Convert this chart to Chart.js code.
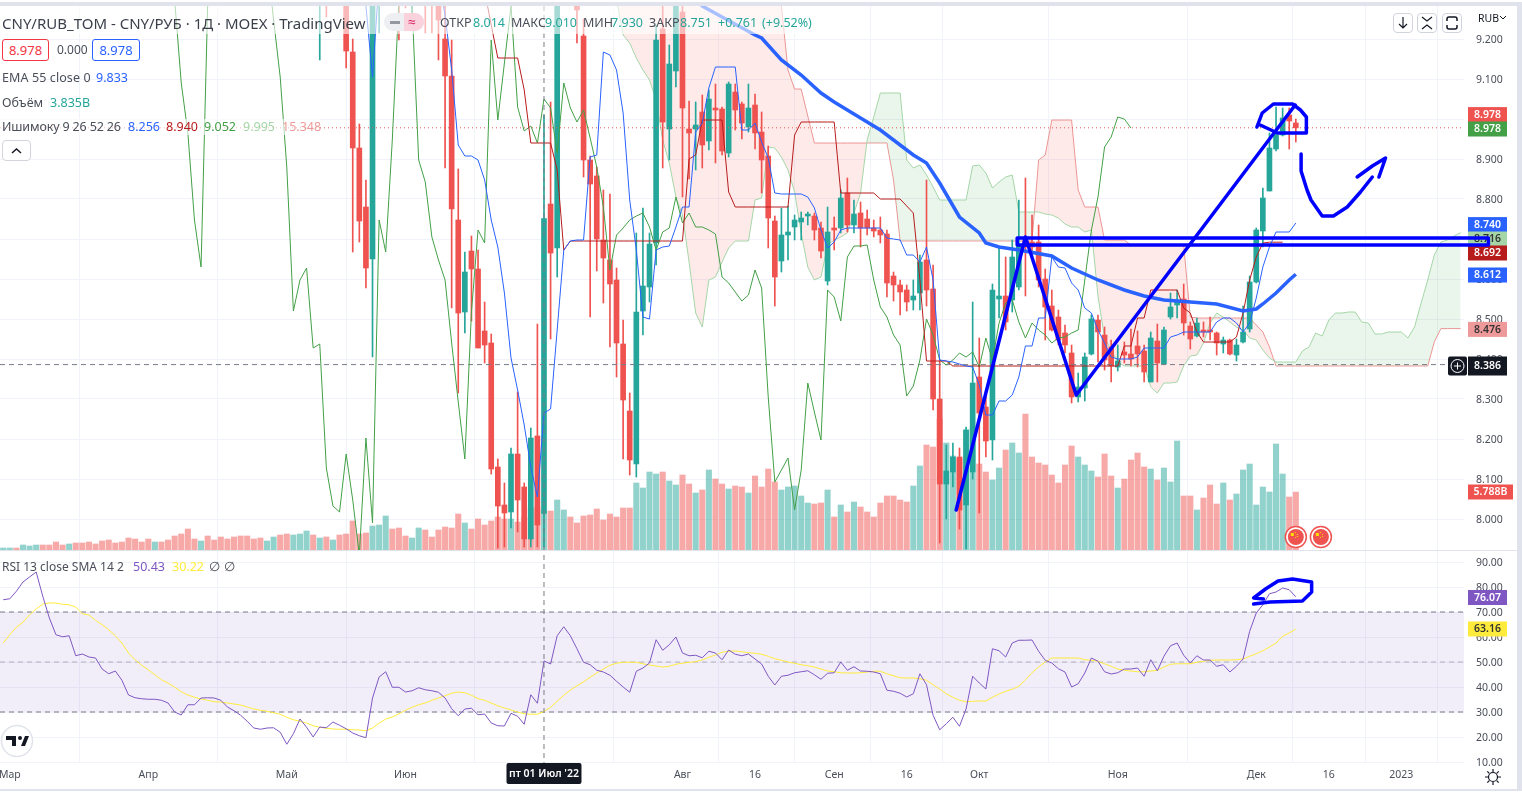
<!DOCTYPE html>
<html lang="ru">
<head>
<meta charset="utf-8">
<title>CNY/RUB_TOM</title>
<script src="https://cdn.jsdelivr.net/npm/chart.js"></script>
<style>
html, body { margin: 0; padding: 0; background: #fff; overflow: hidden; }
body { width: 1522px; height: 797px; position: relative; font-family: "Noto Sans", "Open Sans", sans-serif; color: #4a4e59; }
#topline { position: absolute; left: 0; top: 2px; width: 1522px; height: 4px; background: #e0e3eb; }
#rightline { position: absolute; left: 1517px; top: 2px; width: 5px; height: 789px; background: #e0e3eb; }
#botline { position: absolute; left: 0; top: 789px; width: 1522px; height: 2px; background: #e0e3eb; }
#sepline { position: absolute; left: 0; top: 550px; width: 1517px; height: 1px; background: #e0e3eb; }
#chart { position: absolute; left: 0; top: 6px; }
.t { position: absolute; white-space: nowrap; font-size: 12.5px; line-height: 16px; }
.band { position: absolute; background: rgba(255,255,255,.6); }
.box { position: absolute; border-radius: 3px; text-align: center; background: #fff; font-size: 13px; line-height: 20px; box-sizing: border-box; height: 22px; }
.btn { position: absolute; width: 20px; height: 20px; border: 1px solid #d1d4dc; border-radius: 4px; background: #fff; box-sizing: border-box; }
.teal { color: #26a69a; }
</style>
</head>
<body>
<div id="topline"></div>
<div id="rightline"></div>
<div id="botline"></div>
<canvas id="chart" width="1517" height="783"></canvas>
<div id="sepline"></div>

<div class="band" style="left:0;top:6px;width:812px;height:28px"></div>
<div class="t" style="left:2px;top:14px;font-size:15px;line-height:18px;color:#3b3f4a">CNY/RUB_TOM - CNY/РУБ · 1Д · MOEX · TradingView</div>
<div style="position:absolute;left:384px;top:13px;width:40px;height:18px;border-radius:9px;background:#eeeff2"></div>
<div style="position:absolute;left:404px;top:13px;width:20px;height:18px;border-radius:0 9px 9px 0;background:#f9d2dc"></div>
<div style="position:absolute;left:390px;top:21px;width:10px;height:3px;background:#9598a1"></div>
<div class="t" style="left:408px;top:14px;color:#d81b60;font-size:14px">≈</div>
<div class="t" style="left:440px;top:15px">ОТКР</div><div class="t teal" style="left:473px;top:15px">8.014</div>
<div class="t" style="left:511px;top:15px">МАКС</div><div class="t teal" style="left:545px;top:15px">9.010</div>
<div class="t" style="left:583px;top:15px">МИН</div><div class="t teal" style="left:611px;top:15px">7.930</div>
<div class="t" style="left:649px;top:15px">ЗАКР</div><div class="t teal" style="left:680px;top:15px">8.751</div>
<div class="t teal" style="left:718px;top:15px">+0.761</div><div class="t teal" style="left:762px;top:15px">(+9.52%)</div>

<div class="box" style="left:2px;top:39px;width:47px;border:1px solid #f23645;color:#f23645">8.978</div>
<div class="t" style="left:57px;top:42px;font-size:12px">0.000</div>
<div class="box" style="left:92px;top:39px;width:48px;border:1px solid #2962ff;color:#2962ff">8.978</div>

<div class="t" style="left:2px;top:70px;letter-spacing:.1px">EMA 55 close 0</div><div class="t" style="left:96px;top:70px;color:#2962ff">9.833</div>
<div class="t" style="left:2px;top:95px">Объём</div><div class="t teal" style="left:50px;top:95px">3.835B</div>
<div class="band" style="left:0;top:119px;width:320px;height:16px"></div>
<div class="t" style="left:2px;top:119px;letter-spacing:-.15px">Ишимоку 9 26 52 26</div>
<div class="t" style="left:128px;top:119px;color:#2962ff">8.256</div>
<div class="t" style="left:166px;top:119px;color:#b71c1c">8.940</div>
<div class="t" style="left:204px;top:119px;color:#43a047">9.052</div>
<div class="t" style="left:243px;top:119px;color:#a5d6a7">9.995</div>
<div class="t" style="left:282px;top:119px;color:#ef9a9a">15.348</div>
<div class="btn" style="left:2px;top:140px;width:29px;height:21px">
  <svg width="27" height="19"><path d="M9 12l4.500-4 4.500 4" fill="none" stroke="#131722" stroke-width="1.500"/></svg>
</div>

<div class="t" style="left:2px;top:559px;font-size:12px">RSI 13 close SMA 14 2</div>
<div class="t" style="left:133px;top:559px;color:#7e57c2">50.43</div>
<div class="t" style="left:172px;top:559px;color:#ffeb3b">30.22</div>
<div class="t" style="left:209px;top:559px">∅</div>
<div class="t" style="left:224px;top:559px">∅</div>

<div class="btn" style="left:1393px;top:13px"><svg width="18" height="18"><path d="M9 3v11M5 10l4 4 4-4" fill="none" stroke="#131722" stroke-width="1.200"/></svg></div>
<div class="btn" style="left:1417px;top:13px"><svg width="18" height="18"><path d="M4 3l5 4 5-4M4 15l5-4 5 4" fill="none" stroke="#131722" stroke-width="1.200"/></svg></div>
<div class="btn" style="left:1442px;top:13px"><svg width="18" height="18"><path d="M4 7V5q0-2 2-2h6q2 0 2 2v2M4 11v2q0 2 2 2h6q2 0 2-2v-2" fill="none" stroke="#131722" stroke-width="1.500"/></svg></div>
<div class="t" style="left:1478px;top:10px;font-size:10.5px;color:#131722">RUB</div>
<svg style="position:absolute;left:1499px;top:15px" width="8" height="6"><path d="M1 1l3 3 3-3" fill="none" stroke="#131722"/></svg>

<svg style="position:absolute;left:0;top:724px" width="34" height="34">
  <circle cx="17" cy="17" r="15.500" fill="#fff" stroke="#e0e3eb" stroke-width="1.500"/>
  <path d="M6 12h10v10h-4v-6H6zM21 22l4-10h4l-4 10z" fill="#131722"/><circle cx="20" cy="14" r="2" fill="#131722"/>
</svg>
<svg style="position:absolute;left:1484px;top:768px" width="18" height="18">
  <circle cx="9" cy="9" r="4.500" fill="none" stroke="#131722" stroke-width="1.200"/>
  <path d="M9 1v3M9 14v3M1 9h3M14 9h3M3.300 3.300l2 2M12.700 12.700l2 2M3.300 14.700l2-2M12.700 5.300l2-2" stroke="#131722" stroke-width="1.200"/>
</svg>

<script>
// bars: index 0 is 28 Feb 2022, last bar (196) is 9 Dec 2022
const timeTickBars = [1, 22, 43, 61, 82, 103, 114, 126, 137, 148, 169, 190, 201, 212];
const timeTickLabels = ['Мар', 'Апр', 'Май', 'Июн', 'Июл', 'Авг', '16', 'Сен', '16', 'Окт', 'Ноя', 'Дек', '16', '2023'];
const priceTicks = [8.0, 8.1, 8.2, 8.3, 8.4, 8.5, 8.6, 8.7, 8.8, 8.9, 9.0, 9.1, 9.2];
const rsiTicks = [10, 20, 30, 40, 50, 60, 70, 80, 90];

// candles, first one is bar 48; earlier bars are above the visible range
const candleStart = 48;
const opens = [
  9.4, 9.6, null, null, 9.35, 9.1675, 8.9275, 8.78, 8.65, 9.35,
  null, null, 9.6, 9.6, 9.35, null, 9.6, 9.6, 9.4, 9.2,
  9.1075, 8.7475, 8.5175, 8.67, 8.625, 8.47, 8.44, 8.13, 8.035, 8.0175,
  8.1625, 8.08, 7.95, 8.2075, 8.014, 8.7875, 8.6775, null, null, 9.5,
  9.2075, 8.8975, 8.8575, 8.6975, 8.6475, 8.5975, 8.4375, 8.27, 8.1375, 8.52,
  8.58, 8.69, 9.225, 8.975, 9.12, 9.2675, 8.975, 8.975, 9.0175, 8.945,
  9.0275, 9.025, 8.915, 9.0675, 9.0375, 8.98, 9.035, 8.9675, 8.9075, 8.745,
  8.645, 8.71, 8.73, 8.7425, 8.7575, 8.7575, 8.7275, 8.595, 8.7275, 8.7275,
  8.815, 8.735, 8.765, 8.75, 8.7275, 8.7225, 8.7125, 8.6075, 8.585, 8.5725,
  8.5475, 8.565, 8.6475, 8.575, 8.3, 8.0875, 8.1175, 8.155, 8.035, 8.1175,
  8.355, 8.28, 8.1975, 8.55, 8.5575, 8.5475, 8.58, 8.7025, 8.6925, 8.6925,
  8.6, 8.5325, 8.505, 8.465, 8.415, 8.305, 8.3275, 8.4125, 8.4975, 8.46,
  8.43, 8.38, 8.4175, 8.4125, 8.4325, 8.42, 8.3425, 8.445, 8.3875, 8.505,
  8.535, 8.55, 8.4825, 8.4575, 8.4725, 8.4725, 8.465, 8.4375, 8.4475, 8.41,
  8.4425, 8.475, 8.5925, 8.72, 8.82, 8.925, 8.96, 9.01, 8.99
];
const highs = [
  9.6, 9.6, null, null, 9.4, 9.2, 8.9875, 8.8475, 9.45, 9.55,
  null, null, 9.65, 9.65, 9.55, null, 9.65, 9.65, 9.45, 9.3,
  9.1975, 8.875, 8.6675, 8.7075, 8.6725, 8.5425, 8.4625, 8.15, 8.09, 8.1775,
  8.3175, 8.09, 8.2275, 8.4875, 9.01, 9.0425, 9.4, null, null, 9.55,
  9.25, 8.9075, 8.88, 8.8225, 8.8125, 8.6275, 8.4975, 8.315, 8.715, 8.7775,
  8.715, 9.235, 9.3, 9.185, 9.4, 9.3, 9.045, 9.0425, 9.06, 9.0725,
  9.0875, 9.03, 9.0925, 9.0875, 9.0425, 9.0875, 9.0625, 9.0175, 8.9325, 8.7575,
  8.7775, 8.7825, 8.76, 8.7675, 8.7675, 8.765, 8.7425, 8.78, 8.755, 8.8225,
  8.8525, 8.7975, 8.7925, 8.7725, 8.7475, 8.755, 8.7225, 8.6175, 8.5975, 8.585,
  8.5975, 8.66, 8.8475, 8.635, 8.3975, 8.185, 8.19, 8.1775, 8.23, 8.5425,
  8.4525, 8.31, 8.5875, 8.6775, 8.655, 8.6975, 8.7975, 8.8525, 8.76, 8.735,
  8.625, 8.5725, 8.5225, 8.485, 8.435, 8.365, 8.415, 8.51, 8.51, 8.48,
  8.4475, 8.435, 8.4425, 8.475, 8.47, 8.435, 8.4675, 8.4875, 8.48, 8.565,
  8.5725, 8.5875, 8.4925, 8.5025, 8.4925, 8.505, 8.4675, 8.455, 8.45, 8.45,
  8.5325, 8.6075, 8.7275, 8.8275, 8.965, 9.03, 9.0275, 9.0275, 9.0
];
const lows = [
  9.1475, 9.255, null, null, 9.1275, 8.6675, 8.6925, 8.5775, 8.405, 9.215,
  null, null, 9.1975, 9.2775, 9.24, null, 9.215, 9.215, 9.1475, 8.8775,
  8.5275, 8.315, 8.465, 8.495, 8.4275, 8.39, 8.1125, 7.9275, 7.93, 7.9775,
  7.9675, 7.93, 7.93, 7.93, 7.93, 8.45, 8.605, null, null, 9.19,
  8.855, 8.505, 8.62, 8.54, 8.43, 8.355, 8.15, 8.11, 8.105, 8.46,
  8.5425, 8.635, 8.8775, 8.8975, 9.08, 8.805, 8.85, 8.8725, 8.8775, 8.9225,
  8.89, 8.91, 8.905, 8.9725, 8.95, 8.9675, 8.925, 8.815, 8.6775, 8.5325,
  8.6175, 8.6475, 8.6975, 8.6975, 8.735, 8.6975, 8.6525, 8.585, 8.6725, 8.715,
  8.7175, 8.715, 8.68, 8.71, 8.705, 8.69, 8.555, 8.545, 8.51, 8.52,
  8.5225, 8.5225, 8.5325, 8.2725, 7.94, 8.0, 8.08, 7.975, 7.925, 8.1,
  8.015, 8.155, 8.1475, 8.5025, 8.4725, 8.5175, 8.5725, 8.5575, 8.6675, 8.58,
  8.4475, 8.47, 8.435, 8.415, 8.29, 8.2925, 8.295, 8.41, 8.3925, 8.3725,
  8.3425, 8.37, 8.39, 8.3825, 8.38, 8.3425, 8.3425, 8.3425, 8.3875, 8.5,
  8.5025, 8.46, 8.425, 8.455, 8.455, 8.4475, 8.41, 8.415, 8.41, 8.395,
  8.44, 8.4675, 8.59, 8.68, 8.82, 8.92, 8.9575, 8.925, 8.9425
];
const closes = [
  9.55, 9.4, null, null, 9.17, 8.9275, 8.745, 8.6275, 9.4, 9.5,
  null, null, 9.4, 9.4, 9.5, null, 9.4, 9.4, 9.2475, 9.1075,
  8.775, 8.515, 8.6175, 8.625, 8.4275, 8.435, 8.125, 8.0325, 8.015, 8.1625,
  8.0475, 7.95, 8.2025, 7.985, 8.751, 8.665, 9.35, null, null, 9.2725,
  8.8975, 8.8375, 8.7, 8.6525, 8.5875, 8.44, 8.2975, 8.1475, 8.5175, 8.5825,
  8.6875, 9.1975, 8.9925, 9.1375, 9.35, 9.0275, 8.965, 8.985, 8.935, 9.05,
  9.0225, 8.92, 9.0875, 9.0225, 8.99, 9.0275, 8.965, 8.8975, 8.7525, 8.605,
  8.71, 8.7175, 8.7475, 8.7525, 8.7625, 8.7225, 8.67, 8.7175, 8.7225, 8.8025,
  8.735, 8.7625, 8.7275, 8.7275, 8.72, 8.71, 8.59, 8.585, 8.5675, 8.5425,
  8.5575, 8.6425, 8.5725, 8.3, 8.0875, 8.12, 8.155, 8.0225, 8.2225, 8.34,
  8.265, 8.195, 8.5725, 8.5575, 8.4925, 8.655, 8.685, 8.68, 8.68, 8.5975,
  8.53, 8.4725, 8.4475, 8.435, 8.305, 8.33, 8.405, 8.5, 8.4675, 8.3975,
  8.3825, 8.395, 8.41, 8.4, 8.4125, 8.3675, 8.4525, 8.39, 8.4725, 8.53,
  8.5475, 8.49, 8.45, 8.49, 8.4675, 8.4675, 8.44, 8.4475, 8.4125, 8.435,
  8.4675, 8.5925, 8.7225, 8.8025, 8.9275, 8.96, 9.0025, 8.995, 8.978
];

// volume in billions, from bar 0
const volumes = [
  .2, .2, .2, .5, .4, .5, .5, .5, .8, .5,
  .6, .7, .7, .8, .6, .9, 1, .7, .8, 1.2,
  1.1, .8, 1.1, .8, .8, 1, 1.4, 1.6, 2.1, 1.1,
  .9, 1.4, 1, 1.3, 1.1, 1.3, 1.4, 1.4, 1.1, 1.2,
  .9, 1.3, 1.5, 1.6, 1.5, 1.6, 1.9, 1.5, 1.2, 1.3,
  1, 1.5, 1.6, 2.9, 1.6, 1.7, 2.4, 2.5, 3.4, 2.1,
  2.2, 1.4, 1.2, 2.2, 2, 1.3, 2, 2.3, 2.2, 3.6,
  2.7, 2.1, 3.1, 2.5, 2.9, 3.3, 3.1, 3.1, 2.8, 3.3,
  4.2, 4.3, 3.9, 3.9, 5, 4, 3.3, 2.7, 3.4, 3.5,
  4.1, 3, 3.6, 3.3, 4.2, 4.2, 6.7, 6.2, 7.8, 7.6,
  7.8, 6.9, 6.5, 7.5, 6.6, 5.7, 6, 8, 7.1, 6.6,
  6.1, 6.4, 6.3, 5.7, 7.4, 6.3, 8.1, 6.8, 6, 6.3,
  6.4, 5.4, 4.7, 4.6, 4.7, 6, 3.3, 4.5, 3.8, 4.8,
  4.3, 3.8, 3.3, 4.7, 5.4, 5.4, 5, 4.8, 6.4, 8.4,
  10.5, 10.3, 13.1, 10.7, 9.4, 9.1, 12, 12.2, 8.6, 7.8,
  7, 8.2, 10, 10.7, 9.7, 13.6, 9.3, 8.7, 8.5, 7.5,
  6.7, 8.5, 10.4, 9.3, 8.5, 7.9, 7.3, 9.6, 7.4, 6.2,
  7.1, 9, 9.7, 8.3, 8.1, 7, 8.2, 6.8, 10.9, 5.4,
  5.4, 4, 5.2, 6.5, 4.6, 6.7, 5, 5.6, 8, 8.6,
  4.5, 6.3, 5.8, 10.6, 7.6, 5.3, 5.788
];
const volumeUp = [
  1, 1, 0, 1, 1, 1, 0, 0, 0, 0,
  1, 0, 0, 0, 0, 0, 0, 0, 0, 0,
  0, 0, 0, 1, 0, 0, 0, 0, 0, 0,
  1, 0, 0, 0, 0, 0, 0, 0, 0, 0,
  1, 1, 0, 0, 1, 1, 1, 0, 1, 0,
  1, 0, 0, 0, 0, 0, 1, 1, 1, 0,
  0, 0, 1, 1, 0, 0, 0, 0, 0, 0,
  1, 0, 0, 0, 0, 0, 0, 1, 0, 0,
  0, 0, 1, 0, 1, 1, 0, 0, 0, 0,
  0, 0, 0, 0, 0, 0, 1, 1, 1, 1,
  0, 1, 1, 0, 0, 1, 0, 1, 0, 0,
  1, 0, 0, 1, 0, 0, 0, 0, 1, 1,
  1, 1, 1, 0, 0, 1, 0, 1, 0, 1,
  0, 0, 0, 0, 0, 0, 0, 0, 1, 1,
  0, 0, 0, 1, 1, 0, 1, 1, 0, 0,
  1, 1, 0, 1, 1, 0, 0, 0, 0, 0,
  0, 0, 0, 1, 1, 1, 0, 0, 0, 1,
  0, 0, 0, 0, 1, 0, 1, 1, 1, 0,
  0, 1, 0, 0, 0, 1, 0, 1, 1, 1,
  1, 1, 1, 1, 1, 0, 0
];

// EMA 55, only the bars where the line was read
const emaBars = [96, 106, 109, 114, 115, 118, 121, 124, 126, 131, 133, 138, 140, 142, 145, 148, 149, 151, 154, 159, 162, 166, 170, 173, 176, 180, 184, 188, 190, 191, 193, 195, 196];
const emaValues = [9.42, 9.2825, 9.255, 9.21, 9.2025, 9.1475, 9.11, 9.065, 9.0425, 8.9925, 8.9725, 8.91, 8.89, 8.84, 8.755, 8.715, 8.69, 8.68, 8.6725, 8.6575, 8.6275, 8.5975, 8.5725, 8.5575, 8.5475, 8.5425, 8.5375, 8.52, 8.525, 8.5375, 8.565, 8.5975, 8.612];

const tenkanStart = 54;
const tenkan = [
  9.35, 9.2825, 9.105, 9.35, 9.4, 9.4, 9.4, 9.4, 9.4, 9.4, 9.4, 9.4, 9.35, 9.26,
  9.1225, 8.935, 8.9075, 8.9075, 8.8975, 8.8475, 8.7475, 8.68, 8.565, 8.4025,
  8.3225, 8.235, 8.13, 8.055, 8.265, 8.275, 8.4725, 8.6725, 8.695, 8.6975,
  8.6975, 8.905, 8.91, 9.1675, 9.16, 9.1225, 9.015, 8.7975, 8.6725, 8.505,
  8.5, 8.6725, 8.68, 8.6825, 8.73, 8.78, 8.78, 8.9675, 8.99, 9.0775,
  9.13, 9.13, 9.13, 9.13, 8.9725, 8.9725, 8.99, 8.9425, 8.9025, 8.815,
  8.8125, 8.8125, 8.8125, 8.8125, 8.805, 8.7775, 8.7225, 8.6775, 8.6925, 8.7225,
  8.7275, 8.7275, 8.7275, 8.7275, 8.7275, 8.7275, 8.7025, 8.7, 8.6975, 8.66,
  8.66, 8.6425, 8.68, 8.5975, 8.3975, 8.395, 8.3925, 8.3875, 8.3825, 8.38,
  8.335, 8.26, 8.26, 8.295, 8.295, 8.31, 8.355, 8.4325, 8.4325, 8.5025,
  8.5025, 8.655, 8.63, 8.6275, 8.59, 8.5725, 8.5275, 8.515, 8.4725, 8.44,
  8.405, 8.4, 8.4, 8.4, 8.405, 8.4275, 8.4275, 8.4275, 8.4275, 8.455,
  8.46, 8.4675, 8.4675, 8.4675, 8.4675, 8.4675, 8.4925, 8.5025, 8.5025, 8.49,
  8.4675, 8.49, 8.5525, 8.63, 8.68, 8.7175, 8.7175, 8.7175, 8.74
];

const kijunStart = 72;
const kijun = [
  9.4, 9.32, 9.235, 9.1525, 9.1525, 9.1525, 9.1525, 9.0725, 8.94, 8.94, 8.94, 8.94,
  8.8725, 8.6725, 8.695, 8.695, 8.695, 8.695, 8.695, 8.695, 8.695, 8.695, 8.695, 8.695,
  8.695, 8.695, 8.695, 8.695, 8.695, 8.695, 8.695, 8.695, 8.9, 8.91, 8.9975, 8.9975,
  8.9975, 8.9975, 8.8175, 8.78, 8.78, 8.78, 8.78, 8.78, 8.78, 8.78, 8.78, 8.78,
  8.96, 8.9925, 8.9925, 8.9925, 8.9925, 8.9925, 8.9925, 8.815, 8.815, 8.815, 8.815, 8.815,
  8.815, 8.8, 8.8, 8.8, 8.8, 8.7825, 8.765, 8.5975, 8.395, 8.395, 8.395, 8.395,
  8.3825, 8.3825, 8.3825, 8.3825, 8.3825, 8.3825, 8.3825, 8.3825, 8.3825, 8.3825, 8.3825, 8.3825,
  8.3825, 8.3825, 8.3825, 8.3825, 8.3825, 8.3825, 8.3825, 8.3825, 8.3825, 8.3825, 8.3825, 8.3825,
  8.3825, 8.3825, 8.4325, 8.4325, 8.5025, 8.5025, 8.5725, 8.5725, 8.5725, 8.5725, 8.5725, 8.5275,
  8.515, 8.4675, 8.4425, 8.4425, 8.4425, 8.4425, 8.4425, 8.455, 8.515, 8.5975, 8.655, 8.69,
  8.692, 8.692, 8.692
];

// cloud, both spans run from bar 92 to bar 221
const cloudStart = 92;
const spanA = [
  9.45, 9.2975, 9.21, 9.19, 9.1525, 9.1225, 9.0975, 9.0475, 8.9475, 8.89,
  8.805, 8.76, 8.6425, 8.515, 8.48, 8.5975, 8.605, 8.6425, 8.6775, 8.695,
  8.695, 8.695, 8.7975, 8.8025, 8.93, 8.9275, 8.905, 8.8725, 8.8175, 8.715,
  8.63, 8.5975, 8.605, 8.685, 8.6975, 8.705, 8.715, 8.765, 8.815, 8.9475,
  9.005, 9.065, 9.065, 9.065, 9.065, 8.8975, 8.8775, 8.885, 8.86, 8.83,
  8.7975, 8.7975, 8.7975, 8.7975, 8.7975, 8.8825, 8.885, 8.865, 8.8275, 8.8425,
  8.855, 8.86, 8.7675, 8.7675, 8.7675, 8.7675, 8.7625, 8.76, 8.7525, 8.7375,
  8.73, 8.73, 8.7175, 8.7225, 8.5575, 8.4525, 8.4225, 8.3925, 8.3825, 8.3825,
  8.3825, 8.3825, 8.33, 8.315, 8.34, 8.34, 8.3425, 8.3825, 8.4075, 8.41,
  8.44, 8.49, 8.515, 8.505, 8.4925, 8.48, 8.4725, 8.4525, 8.4475, 8.4225,
  8.4025, 8.3925, 8.3925, 8.3925, 8.3925, 8.42, 8.43, 8.465, 8.4575, 8.4975,
  8.515, 8.515, 8.5175, 8.5175, 8.4925, 8.49, 8.4625, 8.4625, 8.4675, 8.4675,
  8.4675, 8.4525, 8.48, 8.54, 8.5975, 8.66, 8.6925, 8.6975, 8.7075, 8.716
];
const spanB = [
  9.5, 9.5, 9.5, 9.5, 9.5, 9.5, 9.5, 9.5, 9.5, 9.5,
  9.5, 9.5, 9.5, 9.5, 9.5, 9.5, 9.5, 9.5, 9.5, 9.5,
  9.5, 9.5, 9.5, 9.5, 9.5, 9.5, 9.2825, 9.1225, 9.075, 9.075,
  9.0075, 8.94, 8.94, 8.94, 8.94, 8.94, 8.94, 8.94, 8.94, 8.94,
  8.94, 8.94, 8.94, 8.8475, 8.695, 8.695, 8.695, 8.695, 8.695, 8.695,
  8.695, 8.695, 8.695, 8.695, 8.695, 8.695, 8.695, 8.695, 8.695, 8.695,
  8.695, 8.695, 8.695, 8.695, 8.695, 8.8975, 8.91, 8.9975, 8.9975, 8.9975,
  8.9975, 8.8225, 8.78, 8.78, 8.78, 8.6975, 8.6975, 8.6975, 8.6975, 8.685,
  8.685, 8.685, 8.685, 8.685, 8.685, 8.685, 8.685, 8.685, 8.505, 8.5025,
  8.5025, 8.5025, 8.5025, 8.5025, 8.5025, 8.5025, 8.5025, 8.5025, 8.485, 8.4675,
  8.43, 8.3825, 8.3825, 8.3825, 8.3825, 8.3825, 8.3825, 8.3825, 8.3825, 8.3825,
  8.3825, 8.3825, 8.3825, 8.3825, 8.3825, 8.3825, 8.3825, 8.3825, 8.3825, 8.3825,
  8.3825, 8.3825, 8.3825, 8.3825, 8.3825, 8.4425, 8.476, 8.476, 8.476, 8.476
];

const chikouStart = 25;
const chikou = [
  9.6, 9.2975, 9.09, 8.965, 8.7475, 8.63, 9.2825, 9.6, 9.6, 9.6, 9.6, 9.6, 9.6, 9.6, 9.6,
  9.4, 9.2475, 9.105, 8.88, 8.52, 8.5975, 8.6275, 8.4275, 8.4375, 8.1275, 8.0325, 8.0175, 8.1625, 8.0475, 7.91,
  8.2025, 7.99, 8.7475, 8.6675, 8.9475, 9.2975, 9.4, 9.2825, 8.8975, 8.8425, 8.705, 8.6475, 8.5975, 8.44, 8.2925,
  8.15, 8.5175, 8.7225, 8.69, 9.1975, 8.9975, 9.14, 9.2825, 9.03, 8.97, 8.9825, 8.94, 9.05, 9.0275, 8.915,
  9.09, 9.0275, 8.9925, 9.0225, 8.9525, 8.88, 8.78, 8.6225, 8.71, 8.7275, 8.7475, 8.7575, 8.765, 8.73, 8.6725,
  8.7175, 8.7275, 8.805, 8.74, 8.765, 8.73, 8.73, 8.7225, 8.7125, 8.605, 8.59, 8.5675, 8.545, 8.56, 8.6225,
  8.5775, 8.305, 8.0925, 8.1225, 8.1525, 8.0225, 8.1225, 8.34, 8.2675, 8.1975, 8.5725, 8.555, 8.495, 8.655, 8.6825,
  8.6825, 8.685, 8.5975, 8.53, 8.505, 8.46, 8.435, 8.3075, 8.3325, 8.3975, 8.5, 8.46, 8.3975, 8.385, 8.3975,
  8.415, 8.405, 8.4175, 8.38, 8.4525, 8.3975, 8.49, 8.54, 8.5475, 8.4925, 8.4525, 8.49, 8.4725, 8.46, 8.44,
  8.4525, 8.455, 8.465, 8.4725, 8.5975, 8.7225, 8.805, 8.93, 8.955, 9.005, 9.0, 8.9775
];

// RSI and its SMA, from bar 0
const rsi = [
  74.9, 75.3, 78.3, 82, 84, 86, 76.3, 67.6, 60.9, 60.1,
  60.5, 52.5, 53.2, 52, 51.6, 47.2, 45.3, 46.4, 42.7, 36.8,
  35.7, 35.3, 35.1, 35.1, 34.7, 33.6, 30, 28.8, 32.9, 32.9,
  35.6, 35.7, 35.6, 34.7, 32, 30.5, 28.7, 26.3, 23.6, 23.1,
  23.6, 23.7, 21.9, 17.1, 21.3, 27.2, 23.9, 20, 24, 23.7,
  26, 24.7, 23.3, 21.6, 20.5, 19.7, 35.6, 44, 46.1, 39.9,
  39.9, 38, 38.5, 39.7, 38.9, 38.5, 37.9, 35.6, 31.3, 28.5,
  31.2, 31.5, 28.9, 29.2, 25.6, 24.5, 24.4, 29.5, 28.3, 25.1,
  36.9, 33.5, 50.43, 49.2, 60.5, 64.1, 60.5, 55.3, 49.9, 48.9,
  46.7, 46, 44.7, 42.3, 40, 37.9, 46.3, 47.6, 49.6, 58.9,
  54.7, 56.9, 60, 53.6, 52.5, 52.7, 51.7, 54.3, 53.6, 50.9,
  54.8, 53.1, 52.5, 53.2, 51.2, 49.2, 44.3, 40.8, 44.3, 44.7,
  45.7, 46.1, 46.5, 44.9, 43.1, 45.5, 45.7, 50, 46.7, 48.1,
  46.4, 46.3, 46, 45.3, 38.7, 38.3, 37.5, 36, 37.3, 45.3,
  40.9, 28.7, 22.9, 25.3, 27.9, 24.3, 31.2, 44.3, 41.6, 39.2,
  55.3, 54.5, 52, 57.6, 58.7, 58.7, 58.8, 54.3, 50.7, 49.6,
  47.3, 46, 40, 41.3, 45.6, 51.6, 50.3, 46.1, 45.2, 45.7,
  47.2, 47.2, 47.6, 44.3, 50.9, 46.5, 52.3, 56.5, 57.6, 52.7,
  49.6, 52.5, 50.8, 50.8, 48.3, 48.9, 46, 48.3, 51.2, 62.3,
  69.6, 72.9, 77.3, 78, 79.6, 78.9, 76.07
];
const rsiSma = [
  57.6, 60.9, 63.9, 65.9, 68.9, 71.2, 73.2, 73.6, 73.6, 73.1,
  72.9, 72, 69.3, 68.8, 66.7, 64.9, 62.9, 60.5, 57.6, 53.6,
  50.9, 48.7, 46.9, 44.9, 42.9, 41.6, 39.9, 38.1, 36.8, 35.9,
  35.2, 34.7, 34.1, 34, 33.6, 33.2, 32.8, 32, 31.2, 30.7,
  30.3, 29.7, 29.1, 27.9, 26.9, 26.3, 25.6, 24.5, 23.9, 23.5,
  23.2, 23.1, 23.1, 22.9, 22.8, 22.5, 23.6, 25.5, 27.2, 28,
  29.3, 30.7, 31.9, 32.9, 33.6, 34.7, 35.6, 36.5, 37.5, 38,
  37.7, 36.7, 35.3, 34.7, 33.6, 32.5, 31.6, 30.8, 30, 29.3,
  29.1, 29.1, 30.22, 31.9, 34.3, 36.7, 38.8, 40.5, 42.1, 43.9,
  45.6, 47.2, 48.7, 49.5, 49.9, 49.9, 49.9, 49.3, 48.8, 48.4,
  48, 48.3, 49.1, 49.5, 49.9, 50.1, 50.9, 51.9, 52.8, 53.9,
  54.3, 54.4, 54.1, 53.7, 53.5, 53.1, 52.3, 51.3, 50.7, 50,
  49.5, 48.9, 48.5, 48, 47.2, 46.4, 46.1, 45.7, 45.6, 45.6,
  45.7, 46, 46.3, 46.3, 45.3, 44.5, 43.7, 43.6, 43.6, 43.3,
  42.7, 40.9, 39.2, 37.3, 35.9, 34.7, 34.1, 34.3, 34.4, 34.4,
  35.9, 37.2, 38.3, 39.1, 40.3, 42.9, 45.7, 48, 50, 51.6,
  51.6, 51.6, 51.6, 51.6, 50.9, 50.7, 50.3, 49.3, 48.3, 47.2,
  46.7, 46.4, 46.1, 46.1, 46.4, 46.7, 48, 49.1, 49.3, 49.3,
  49.3, 49.9, 50.3, 50.7, 50.8, 50.8, 50.8, 50.9, 51.2, 52.3,
  53.3, 54.5, 56, 57.6, 60.3, 61.6, 63.16
];

// hand drawn marks on the chart: [bar, price] pairs, RSI ones are [bar, rsi]
const penZigzag = [[144.5, 8.0225], [155, 8.705], [162.7, 8.31], [195.9, 9.035]];
const penBox = [[153.75, 8.7025], [225.2, 8.7025], [225.2, 8.685], [153.75, 8.685], [153.75, 8.7025]];
const penBlob = [[190.1, 8.98], [190.9, 9.015], [192.6, 9.0375], [195.5, 9.0375], [196.7, 9.0225], [197.6, 9.005], [197.6, 8.965], [193.2, 8.965], [190.6, 8.985]];
const penCurve = [[196.8, 8.9125], [196.8, 8.87], [197.7, 8.8225], [198.3, 8.7975], [200, 8.7575], [201.7, 8.7575], [203.8, 8.78], [205.8, 8.8175], [207.6, 8.855]];
const penArrow = [[205.3, 8.855], [207.6, 8.8825], [209.6, 8.9025], [208.6, 8.855]];
const penRsiBlob = [[191.1, 75.2], [189.6, 75.6], [191.4, 79.2], [193.3, 82.4], [195.5, 83.2], [198.4, 82], [198.4, 78], [197, 74.4], [192.1, 74], [189.6, 73.2]];

const lastPrice = 8.978;
const crossBar = 82;
const crossPrice = 8.386;
const rsiLevels = [70, 50, 30];
const chinaEvents = [196, 199.8];

// tags on the price axis, "at" is where the tag sits after TradingView moved them apart
const priceTags = [
  { text: '8.978', axis: 'y', at: 9.011, bg: '#ef5350', fg: '#fff' },
  { text: '8.978', axis: 'y', at: 8.975, bg: '#43a047', fg: '#fff' },
  { text: '8.740', axis: 'y', at: 8.736, bg: '#2962ff', fg: '#fff' },
  { text: '8.716', axis: 'y', at: 8.700, bg: '#a5d6a7', fg: '#333' },
  { text: '8.692', axis: 'y', at: 8.665, bg: '#b71c1c', fg: '#fff' },
  { text: '8.612', axis: 'y', at: 8.610, bg: '#2962ff', fg: '#fff' },
  { text: '8.476', axis: 'y', at: 8.474, bg: '#ef9a9a', fg: '#333' },
  { text: '8.386', axis: 'y', at: 8.3825, bg: '#131722', fg: '#fff', tall: true },
  { text: '5.788B', axis: 'y', at: 8.0675, bg: '#ef5350', fg: '#fff', wide: true },
  { text: '76.07', axis: 'rsi', at: 75.8, bg: '#7e57c2', fg: '#fff' },
  { text: '63.16', axis: 'rsi', at: 63.2, bg: '#ffeb3b', fg: '#333' }
];

const xMin = -0.485, xMax = 221.5;
const UP = '#26a69a', DOWN = '#ef5350';
const font = '"Noto Sans", "Open Sans", sans-serif';

function series(values, start) {
  return values.map((v, k) => ({ x: k + start, y: v }));
}
function pairs(list) {
  return list.map(p => ({ x: p[0], y: p[1] }));
}
function hline(v) {
  return [{ x: xMin, y: v }, { x: xMax, y: v }];
}

const wickData = [], bodyData = [];
opens.forEach((o, k) => {
  if (o === null) return;
  wickData.push({ x: k + candleStart, y: [lows[k], highs[k]], up: closes[k] >= o });
  bodyData.push({ x: k + candleStart, y: [o, closes[k]], up: closes[k] >= o });
});
const candleColor = c => (c.raw && c.raw.up ? UP : DOWN);

function lineSet(label, data, color, width, order, extra) {
  return Object.assign({
    type: 'line', label, data, borderColor: color, borderWidth: width, order,
    pointRadius: 0, tension: 0, fill: false, yAxisID: 'y'
  }, extra || {});
}
function penSet(label, list, order, axis) {
  return lineSet(label, pairs(list), '#0000ff', 3.5, order, {
    clip: false, yAxisID: axis || 'y', borderJoinStyle: 'round', borderCapStyle: 'round'
  });
}

const datasets = [
  // pen marks on top
  penSet('pen zigzag', penZigzag, 1),
  penSet('pen box', penBox, 1),
  penSet('pen blob', penBlob, 1),
  penSet('pen curve', penCurve, 1),
  penSet('pen arrow', penArrow, 1),
  penSet('pen rsi', penRsiBlob, 1, 'rsi'),
  lineSet('EMA 55', emaBars.map((b, k) => ({ x: b, y: emaValues[k] })), '#2962ff', 3.5, 2),
  lineSet('Tenkan', series(tenkan, tenkanStart), '#2962ff', 1, 3),
  lineSet('Kijun', series(kijun, kijunStart), '#b71c1c', 1, 3),
  lineSet('Chikou', series(chikou, chikouStart), '#43a047', 1, 3),
  lineSet('Last', hline(lastPrice), '#ef5350', 1, 4, { borderDash: [1, 3] }),
  lineSet('Cross', [{ x: xMin, y: crossPrice }, { x: 219, y: crossPrice }], '#787b86', 1, 4, { borderDash: [5, 4] }),
  { type: 'bar', label: 'Wicks', data: wickData, backgroundColor: candleColor, barThickness: 1, grouped: false, order: 5, yAxisID: 'y' },
  { type: 'bar', label: 'Bodies', data: bodyData, backgroundColor: candleColor, barThickness: 5, grouped: false, order: 5, yAxisID: 'y' },
  lineSet('Span A', series(spanA, cloudStart), '#a5d6a7', 1, 6, {
    fill: { target: '+1', above: 'rgba(67,160,71,0.11)', below: 'rgba(244,67,54,0.11)' }
  }),
  lineSet('Span B', series(spanB, cloudStart), '#ef9a9a', 1, 6),
  {
    type: 'bar', label: 'Volume', data: volumes.map((v, k) => ({ x: k, y: v })),
    backgroundColor: c => (volumeUp[c.dataIndex] ? 'rgba(38,166,154,0.5)' : 'rgba(239,83,80,0.5)'),
    barThickness: 5.4, grouped: false, order: 7, yAxisID: 'vol'
  },
  lineSet('RSI', series(rsi, 0), '#7e57c2', 1, 3, { yAxisID: 'rsi' }),
  lineSet('RSI SMA', series(rsiSma, 0), '#ffeb3b', 1, 4, { yAxisID: 'rsi' }),
  lineSet('Level 70', hline(rsiLevels[0]), '#787b86', 1, 6, { yAxisID: 'rsi', borderDash: [5, 4], fill: { target: '+1', above: 'rgba(126,87,194,0.1)', below: 'rgba(126,87,194,0.1)' } }),
  lineSet('Level 30', hline(rsiLevels[2]), '#787b86', 1, 6, { yAxisID: 'rsi', borderDash: [5, 4] }),
  lineSet('Level 50', hline(rsiLevels[1]), 'rgba(120,123,134,.5)', 1, 6, { yAxisID: 'rsi', borderDash: [5, 4] })
];

function tickFitY(scale) {
  scale.width = 53;
  scale.paddingTop = 0;
  scale.paddingBottom = 0;
}

const overlay = {
  id: 'overlay',
  beforeDatasetsDraw(chart) {
    const ctx = chart.ctx;
    ctx.save();
    ctx.textAlign = 'center';
    ctx.textBaseline = 'middle';
    priceTags.forEach(tag => {
      const y = chart.scales[tag.axis].getPixelForValue(tag.at);
      const w = tag.wide ? 45 : 39;
      const h = tag.tall ? 19 : 15;
      ctx.fillStyle = tag.bg;
      ctx.fillRect(1468, y - h / 2, w, h);
      ctx.fillStyle = tag.fg;
      ctx.font = '600 10.5px ' + font;
      ctx.fillText(tag.text, 1468 + w / 2, y + 0.5);
    });
    // plus button next to the crosshair price
    const py = chart.scales.y.getPixelForValue(8.3825);
    ctx.fillStyle = '#131722';
    ctx.beginPath();
    ctx.roundRect(1448, py - 9.5, 19, 19, 2);
    ctx.fill();
    ctx.strokeStyle = '#fff';
    ctx.lineWidth = 1;
    ctx.beginPath();
    ctx.arc(1457.5, py, 6.5, 0, Math.PI * 2);
    ctx.moveTo(1454, py);
    ctx.lineTo(1461, py);
    ctx.moveTo(1457.5, py - 3.5);
    ctx.lineTo(1457.5, py + 3.5);
    ctx.stroke();
    ctx.restore();
  },
  afterDatasetsDraw(chart) {
    const ctx = chart.ctx, area = chart.chartArea;
    const x = chart.scales.x.getPixelForValue(crossBar);
    ctx.save();
    ctx.strokeStyle = '#787b86';
    ctx.lineWidth = 1;
    ctx.setLineDash([5, 4]);
    ctx.beginPath();
    ctx.moveTo(x, area.top);
    ctx.lineTo(x, area.bottom);
    ctx.stroke();
    ctx.setLineDash([]);

    // date tag under the crosshair
    ctx.fillStyle = '#131722';
    ctx.beginPath();
    ctx.roundRect(x - 37.5, area.bottom, 75, 21, 2);
    ctx.fill();
    ctx.fillStyle = '#fff';
    ctx.font = '600 10.5px ' + font;
    ctx.textAlign = 'center';
    ctx.textBaseline = 'middle';
    ctx.fillText("пт 01 Июл '22", x, area.bottom + 11);

    // economic calendar marks
    const fy = chart.scales.y.getPixelForValue(7.955);
    chinaEvents.forEach(bar => {
      const fx = chart.scales.x.getPixelForValue(bar);
      ctx.fillStyle = '#fff';
      ctx.strokeStyle = '#ef5350';
      ctx.lineWidth = 1.5;
      ctx.beginPath();
      ctx.arc(fx, fy, 10.5, 0, Math.PI * 2);
      ctx.fill();
      ctx.stroke();
      ctx.fillStyle = '#ef5350';
      ctx.beginPath();
      ctx.arc(fx, fy, 8, 0, Math.PI * 2);
      ctx.fill();
      ctx.fillStyle = '#ffde00';
      ctx.fillRect(fx - 5, fy - 4, 3, 3);
      ctx.fillRect(fx - 1, fy - 5, 1, 1);
      ctx.fillRect(fx + 1, fy - 3, 1, 1);
      ctx.fillRect(fx + 1, fy - 1, 1, 1);
      ctx.fillRect(fx - 1, fy, 1, 1);
    });
    ctx.restore();
  }
};

const axisFont = { family: font, size: 10.5 };

new Chart(document.getElementById('chart'), {
  type: 'bar',
  data: { datasets },
  plugins: [overlay],
  options: {
    responsive: false,
    animation: false,
    devicePixelRatio: 1,
    layout: { padding: 0 },
    plugins: { legend: { display: false }, tooltip: { enabled: false } },
    scales: {
      x: {
        type: 'linear',
        min: xMin,
        max: xMax,
        offset: false,
        afterBuildTicks: s => { s.ticks = timeTickBars.map(v => ({ value: v })); },
        afterFit: s => { s.height = 26; s.paddingLeft = 0; s.paddingRight = 0; },
        grid: { color: '#f0f3fa', drawTicks: false },
        border: { display: false },
        ticks: {
          autoSkip: false, maxRotation: 0, padding: 6, color: '#4a4e59',
          font: axisFont,
          callback: v => timeTickLabels[timeTickBars.indexOf(v)]
        }
      },
      // the stack puts the lower weight first, so the price pane goes on top
      y: {
        type: 'linear', position: 'right', stack: 'panes', stackWeight: 544, weight: 0,
        min: 7.9225, max: 9.2825,
        afterBuildTicks: s => { s.ticks = priceTicks.map(v => ({ value: v })); },
        afterFit: tickFitY,
        grid: { color: '#f0f3fa', drawTicks: false },
        border: { display: false },
        ticks: {
          autoSkip: false, padding: 12, labelOffset: 1, color: '#4a4e59', font: axisFont,
          callback: v => v.toFixed(3)
        }
      },
      rsi: {
        type: 'linear', position: 'right', stack: 'panes', stackWeight: 213, weight: 1,
        min: 9.6, max: 94.8,
        afterBuildTicks: s => { s.ticks = rsiTicks.map(v => ({ value: v })); },
        afterFit: tickFitY,
        grid: { color: '#f0f3fa', drawTicks: false },
        border: { display: false },
        ticks: {
          autoSkip: false, padding: 12, labelOffset: 1, color: '#4a4e59', font: axisFont,
          callback: v => v.toFixed(2)
        }
      },
      // volume shares the price pane, zero sits on the pane's lower edge
      vol: { type: 'linear', position: 'left', display: false, min: -21.3, max: 54.4 }
    }
  }
});
</script>
</body>
</html>
